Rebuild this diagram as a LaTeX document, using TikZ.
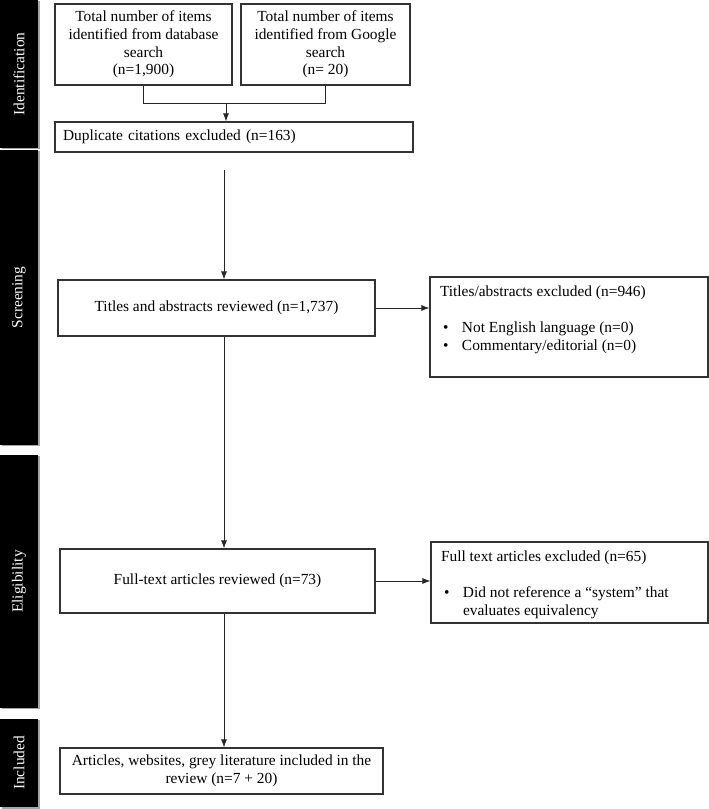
\documentclass[tikz,border=0pt]{standalone}
\usepackage{fontspec}
\setmainfont{Liberation Serif}
\usetikzlibrary{calc,positioning,arrows.meta,shadows}

\newcommand{\bitem}[1]{\par\hspace*{3pt}\makebox[19pt][l]{\textbullet}#1}

\begin{document}
\begin{tikzpicture}[
  x=1pt,y=1pt,
  >={Latex[length=8pt,width=6pt]},
  every node/.style={font=\fontsize{15.4}{17.8}\selectfont},
  box/.style={draw=black!80,line width=1.2pt,align=center,inner sep=4pt},
  exclbox/.style={box,inner xsep=10pt,inner ysep=9pt},
  phase/.style={fill=black,text=white,rotate=90,inner sep=0pt,minimum height=38,
    drop shadow={shadow xshift=1.5pt,shadow yshift=-1.5pt,fill=black!35,opacity=1}},
  link/.style={draw=black!85,line width=0.8pt}
]%
  \useasboundingbox (0,0) rectangle (709,809);

  % phase bars on the left
  \node[phase,minimum width=148] (idbar)  at (19,735)   {Identification};
  \node[phase,minimum width=295] (scrbar) at (19,511.5) {Screening};
  \node[phase,minimum width=253] (elbar)  at (19,227.5) {Eligibility};
  \node[phase,minimum width=88]  (incbar) at (19,46)    {Included};

  % identification
  \node[box,minimum width=177,minimum height=81] (db) at (143.5,764.5)
    {Total number of items\\identified from database\\search\\(n=1,900)};
  \node[box,minimum width=169,minimum height=81] (gs) at (325.5,764.5)
    {Total number of items\\identified from Google\\search\\(n= 20)};
  \node[box,align=left,text width=342,inner xsep=8pt,minimum height=30] (dup) at (234,672)
    {Duplicate citations excluded (n=163)};

  % screening
  \node[box,minimum width=317,minimum height=56] (tar) at (216.5,501)
    {Titles and abstracts reviewed (n=1,737)};
  \node[exclbox,minimum width=278,minimum height=100] (tae) at (569,482)
    {\parbox[c][82pt][t]{258pt}{Titles/abstracts excluded (n=946)\par\vspace{18pt}
      \bitem{Not English language (n=0)}
      \bitem{Commentary/editorial (n=0)}}};

  % eligibility
  \node[box,minimum width=315,minimum height=64] (ftr) at (217.5,228)
    {Full-text articles reviewed (n=73)};
  \node[exclbox,minimum width=277,minimum height=81] (fte) at (569.5,226.5)
    {\parbox[c][63pt][t]{257pt}{Full text articles excluded (n=65)\par\vspace{18pt}
      \bitem{Did not reference a “system” that}\par
      \hspace*{22pt}evaluates equivalency}};

  % included
  \node[box,minimum width=323,minimum height=46] (inc) at (221.5,38)
    {Articles, websites, grey literature included in the\\review (n=7 + 20)};

  % connectors
  \coordinate (merge) at (226,706);
  \coordinate (scrtop) at (224,639);
  \draw[link] (db.south) -- (db.south |- merge) -- (gs.south |- merge) -- (gs.south);
  \draw[link,->] (merge) -- (merge |- dup.north);
  \draw[link,->] (scrtop) -- (scrtop |- tar.north);
  \draw[link,->] (tar.east) -- (tae.west |- tar.east);
  \draw[link,->] (scrtop |- tar.south) -- (scrtop |- ftr.north);
  \draw[link,->] (ftr.east) -- (fte.west |- ftr.east);
  \draw[link,->] (scrtop |- ftr.south) -- (scrtop |- inc.north);
\end{tikzpicture}
\end{document}
